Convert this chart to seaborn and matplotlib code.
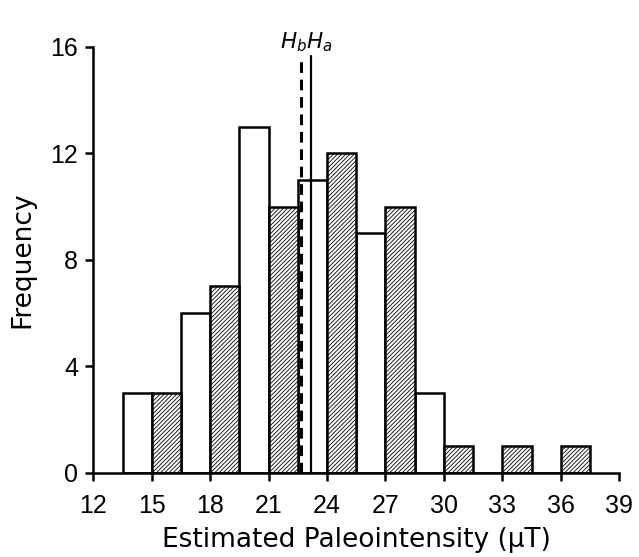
import matplotlib
matplotlib.use("Agg")
import matplotlib.pyplot as plt
import seaborn as sns
import numpy as np

# Data
white_left = [13.5, 16.5, 19.5, 22.5, 25.5, 28.5, 31.5, 34.5]
white_counts = [3, 6, 13, 11, 9, 3, 0, 0]
hatch_left = [15, 18, 21, 24, 27, 30, 33, 36]
hatch_counts = [3, 7, 10, 12, 10, 1, 1, 1]
bin_width = 1.5
Hb = 22.65
Ha = 23.2
xticks = [12, 15, 18, 21, 24, 27, 30, 33, 36, 39]
yticks = [0, 4, 8, 12, 16]

sns.set_style("ticks")
plt.rcParams["font.family"] = ["DejaVu Sans"]
plt.rcParams["mathtext.fontset"] = "dejavusans"
plt.rcParams["hatch.linewidth"] = 0.6
for k in ["text.color", "axes.labelcolor", "xtick.color", "ytick.color", "axes.edgecolor"]:
    plt.rcParams[k] = "black"

fig = plt.figure(figsize=(6.39, 5.57), dpi=100)
ax = fig.add_axes([0.146, 0.151, 0.823, 0.765])

def draw(lefts, counts, hatch):
    for n, l in zip(counts, lefts):
        sns.histplot(x=[l + bin_width / 2], weights=[n], bins=[l, l + bin_width], ax=ax,
                     color="white", edgecolor="black", linewidth=1.8,
                     alpha=1, stat="count", hatch=hatch)

draw(white_left, white_counts, None)
draw(hatch_left, hatch_counts, "////////")

ax.plot([Hb, Hb], [0, 15.55], color="black", lw=2.2, ls=(0, (3.5, 2.2)))
ax.plot([Ha, Ha], [0, 15.65], color="black", lw=1.6)
ax.text(22.95, 15.72, r"$H_b H_a$", ha="center", va="bottom", fontsize=15.5)

ax.set_xlim(12, 39)
ax.set_ylim(0, 16)
ax.set_xticks(xticks)
ax.set_yticks(yticks)
sns.despine(ax=ax)
for s in ["left", "bottom"]:
    ax.spines[s].set_linewidth(1.8)
ax.tick_params(axis="both", direction="out", length=6, width=1.8)
ax.tick_params(axis="x", pad=9)
ax.tick_params(axis="y", pad=5)
for lab in ax.get_xticklabels() + ax.get_yticklabels():
    lab.set_fontfamily(["Liberation Sans"])
    lab.set_fontsize(18)
ax.set_xlabel("Estimated Paleointensity (µT)", fontsize=19, labelpad=7)
ax.set_ylabel("Frequency", fontsize=19, labelpad=11)

fig.savefig("out.png", dpi=100)
